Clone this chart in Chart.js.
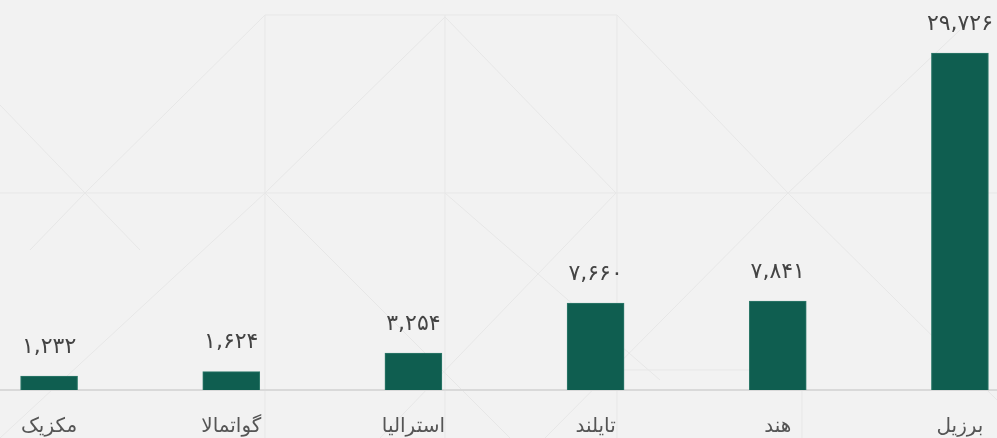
<!DOCTYPE html>
<html lang="fa">
<head>
<meta charset="utf-8">
<script src="https://cdn.jsdelivr.net/npm/chart.js@4/dist/chart.umd.min.js"></script>
<style>
  html, body { margin: 0; padding: 0; }
  body {
    width: 997px; height: 438px; overflow: hidden; position: relative;
    background-color: #f2f2f2;
    background-image: url("data:image/svg+xml;utf8,<svg xmlns='http://www.w3.org/2000/svg' width='997' height='438'><g stroke='%23e7e7e7' stroke-width='1' fill='none'><line x1='0' y1='193' x2='997' y2='193'/><line x1='265' y1='15' x2='617' y2='15'/><line x1='265' y1='15' x2='265' y2='438'/><line x1='445' y1='15' x2='445' y2='438'/><line x1='617' y1='15' x2='617' y2='438'/><line x1='802' y1='370' x2='802' y2='438'/><line x1='620' y1='370' x2='802' y2='370'/><line x1='0' y1='105' x2='140' y2='250'/><line x1='85' y1='193' x2='265' y2='15'/><line x1='30' y1='250' x2='85' y2='193'/><line x1='265' y1='193' x2='510' y2='438'/><line x1='265' y1='193' x2='445' y2='17'/><line x1='445' y1='17' x2='616' y2='193'/><line x1='616' y1='193' x2='380' y2='438'/><line x1='265' y1='193' x2='0' y2='438'/><line x1='617' y1='15' x2='788' y2='193'/><line x1='788' y1='193' x2='960' y2='30'/><line x1='788' y1='193' x2='997' y2='400'/><line x1='788' y1='193' x2='545' y2='438'/><line x1='445' y1='193' x2='660' y2='380'/></g></svg>");
  }
  #wrap { position: absolute; left: -42px; top: 0; width: 1093px; height: 464px; }
</style>
</head>
<body>
<div id="wrap"><canvas id="chart"></canvas></div>
<script>
const categories = ['برزیل', 'هند', 'تایلند', 'استرالیا', 'گواتمالا', 'مکزیک'];
const values = [29726, 7841, 7660, 3254, 1624, 1232];

const faDigits = '۰۱۲۳۴۵۶۷۸۹';
function toFa(n) {
  return n.toLocaleString('en-US').replace(/[0-9]/g, d => faDigits[d]);
}

// value labels above each bar
const valueLabels = {
  id: 'valueLabels',
  afterDatasetsDraw(chart) {
    const ctx = chart.ctx;
    const meta = chart.getDatasetMeta(0);
    ctx.save();
    ctx.font = '22px "DejaVu Sans", sans-serif';
    ctx.fillStyle = '#444444';
    ctx.textAlign = 'center';
    ctx.textBaseline = 'middle';
    meta.data.forEach((bar, i) => {
      ctx.fillText(toFa(values[i]), bar.x, bar.y - 29);
    });
    ctx.restore();
  }
};

new Chart(document.getElementById('chart'), {
  type: 'bar',
  data: {
    labels: categories,
    datasets: [{
      data: values,
      backgroundColor: '#0f5e50',
      borderColor: '#2f7a6b',
      borderWidth: 1,
      barThickness: 57
    }]
  },
  options: {
    responsive: true,
    maintainAspectRatio: false,
    animation: false,
    layout: { padding: 0 },
    scales: {
      x: {
        reverse: true,
        grid: { display: false, drawTicks: false },
        border: { display: true, color: '#d9d9d9', width: 2 },
        ticks: {
          color: '#555555',
          padding: 25,
          font: { family: '"DejaVu Sans", sans-serif', size: 20 }
        }
      },
      y: {
        display: false,
        min: 0,
        max: 34400
      }
    },
    plugins: {
      legend: { display: false },
      tooltip: { enabled: false }
    }
  },
  plugins: [valueLabels]
});
</script>
</body>
</html>
